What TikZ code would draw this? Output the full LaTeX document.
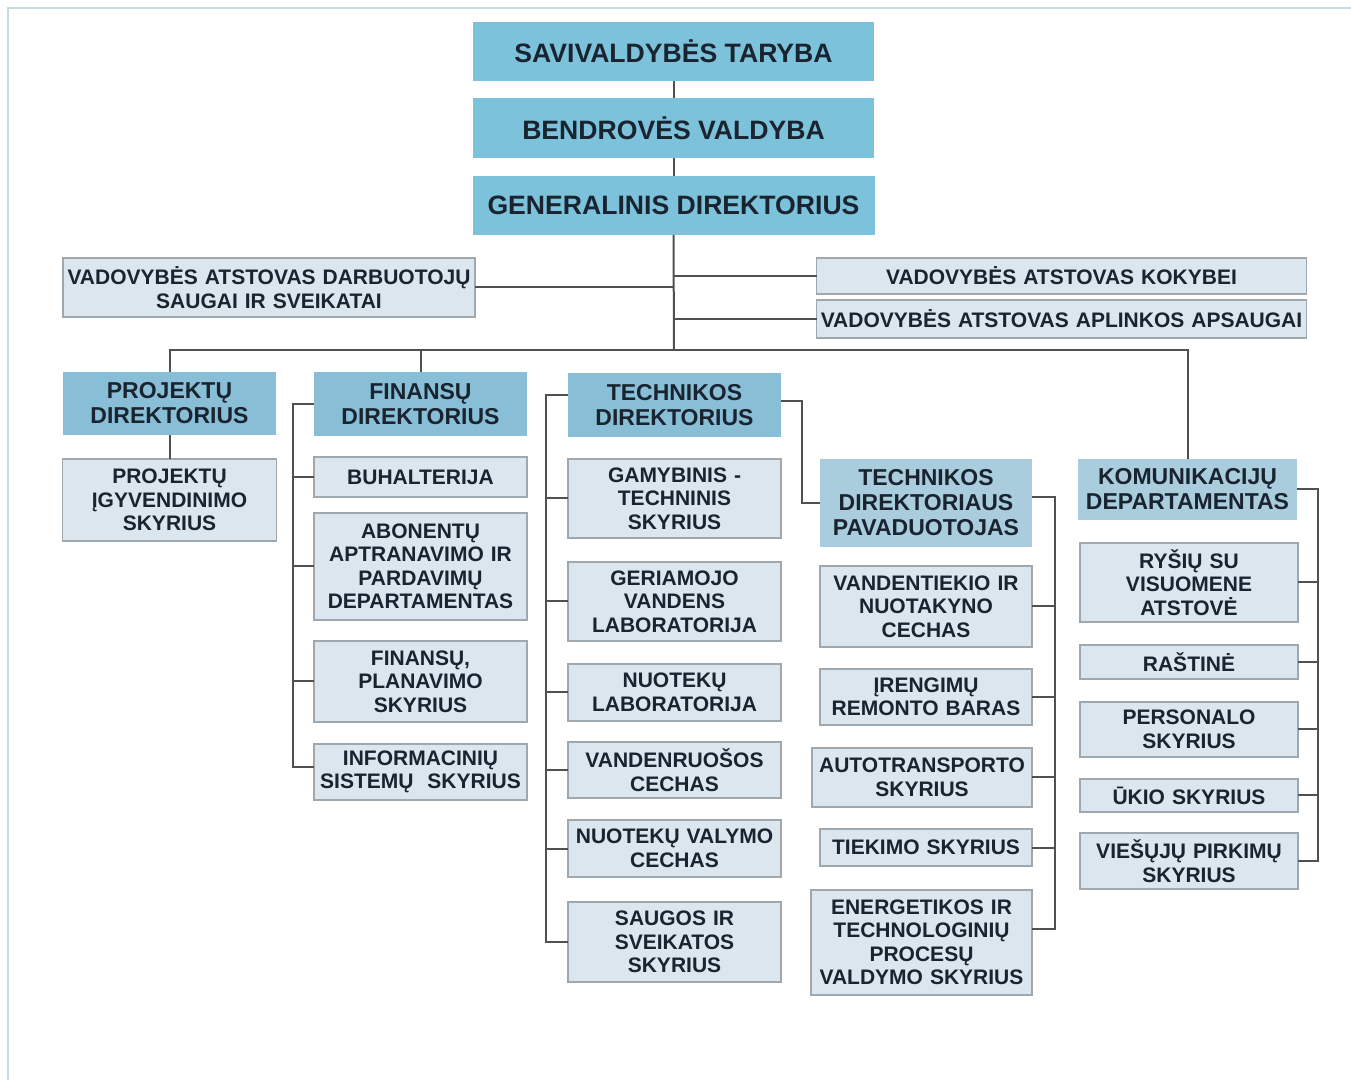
\documentclass[tikz,border=0pt]{standalone}
\usepackage{fontspec}
\setmainfont{Liberation Sans}
\usepackage{xcolor}
\usetikzlibrary{positioning}

\begin{document}
\begin{tikzpicture}[
  x=0.5pt, y=-0.5pt,
  pTop/.style={rectangle, minimum width=200.5pt, minimum height=29.5pt,
    align=center, inner sep=1pt, outer sep=0pt,
    fill={rgb,255:red,124;green,194;blue,218},
    text={rgb,255:red,26;green,36;blue,48},
    font=\bfseries\fontsize{13.3}{15}\selectfont},
  pDir/.style={rectangle, minimum width=106.5pt, text width=104.5pt,
    align=center, inner sep=1pt, outer sep=0pt,
    fill={rgb,255:red,136;green,190;blue,214},
    text={rgb,255:red,26;green,36;blue,48},
    font=\bfseries\fontsize{11.5}{12.5}\selectfont},
  pDep/.style={pDir,
    fill={rgb,255:red,170;green,205;blue,222}},
  pSub/.style={rectangle, minimum width=106.5pt, text width=104.5pt,
    align=center, inner sep=1pt, outer sep=0pt,
    fill={rgb,255:red,220;green,230;blue,238},
    draw={rgb,255:red,160;green,168;blue,175},
    line width=0.6pt,
    text={rgb,255:red,26;green,36;blue,48},
    font=\bfseries\fontsize{10.5}{11.75}\selectfont},
  wPav/.style={minimum width=106pt, text width=104pt},
  wKom/.style={minimum width=109pt, text width=107pt},
  pline/.style={line width=1pt,
    color={rgb,255:red,80;green,80;blue,80}},
  frameline/.style={line width=0.6pt,
    color={rgb,255:red,196;green,218;blue,228}},
]

  \fill[white] (0,0) rectangle (1351,1080);
  \useasboundingbox (0,0) rectangle (1351,1080);
  \draw[frameline] (8,1080) -- (8,8) -- (1351,8);

  %% -- Top of the hierarchy ------------------------------------
  \node[pTop] (taryba) at (673.5,51.5) {SAVIVALDYBĖS TARYBA};
  \node[pTop, minimum height=30pt, below=8.5pt of taryba] (valdyba)
    {BENDROVĖS VALDYBA};
  \node[pTop, minimum width=201pt, below=9pt of valdyba] (gendir)
    {GENERALINIS DIREKTORIUS};

  %% -- Staff representatives -----------------------------------
  \node[pSub, minimum width=206pt, text width=204pt,
    minimum height=29.5pt] (saugai) at (269,287.5)
    {VADOVYBĖS ATSTOVAS DARBUOTOJŲ\\SAUGAI IR SVEIKATAI};
  \node[pSub, minimum width=245pt, text width=243pt,
    minimum height=18pt] (kokybe) at (1061.5,276)
    {VADOVYBĖS ATSTOVAS KOKYBEI};
  \node[pSub, minimum width=245pt, text width=243pt,
    minimum height=19pt, below=3pt of kokybe] (aplinka)
    {VADOVYBĖS ATSTOVAS APLINKOS APSAUGAI};

  %% -- Directors -----------------------------------------------
  \node[pDir, minimum height=31.5pt] (projdir) at (169.5,403.5)
    {PROJEKTŲ\\DIREKTORIUS};
  \node[pDir, minimum height=32pt] (findir) at (420.5,404)
    {FINANSŲ\\DIREKTORIUS};
  \node[pDir, minimum height=32pt] (techdir) at (674.5,405)
    {TECHNIKOS\\DIREKTORIUS};
  \node[pDep, wPav, minimum height=44pt] (pavad) at (926,503)
    {TECHNIKOS\\DIREKTORIAUS\\PAVADUOTOJAS};
  \node[pDep, minimum width=109.5pt, text width=107.5pt,
    minimum height=30.5pt] (komdir) at (1187.5,489.5)
    {KOMUNIKACIJŲ\\DEPARTAMENTAS};

  %% -- Projektų direktorius ------------------------------------
  \node[pSub, minimum width=107pt, text width=105pt,
    minimum height=41pt, below=12pt of projdir] (projsk)
    {PROJEKTŲ\\ĮGYVENDINIMO\\SKYRIUS};

  %% -- Finansų direktorius -------------------------------------
  \node[pSub, minimum height=20pt, below=10.5pt of findir] (buh)
    {BUHALTERIJA};
  \node[pSub, minimum height=53.5pt, below=8pt of buh] (abon)
    {ABONENTŲ\\APTRANAVIMO IR\\PARDAVIMŲ\\DEPARTAMENTAS};
  \node[pSub, minimum height=40.5pt, below=10.5pt of abon] (finplan)
    {FINANSŲ,\\PLANAVIMO\\SKYRIUS};
  \node[pSub, minimum height=28pt, below=11pt of finplan] (info)
    {INFORMACINIŲ\\SISTEMŲ~ SKYRIUS};

  %% -- Technikos direktorius -----------------------------------
  \node[pSub, minimum height=39.5pt, below=11pt of techdir] (gam)
    {GAMYBINIS -\\TECHNINIS\\SKYRIUS};
  \node[pSub, minimum height=39.5pt, below=12pt of gam] (geri)
    {GERIAMOJO\\VANDENS\\LABORATORIJA};
  \node[pSub, minimum height=28.5pt, below=11.5pt of geri] (nuolab)
    {NUOTEKŲ\\LABORATORIJA};
  \node[pSub, minimum height=28pt, below=10.5pt of nuolab] (vruos)
    {VANDENRUOŠOS\\CECHAS};
  \node[pSub, minimum height=28.5pt, below=11pt of vruos] (nval)
    {NUOTEKŲ VALYMO\\CECHAS};
  \node[pSub, minimum height=40pt, below=12.5pt of nval] (saug)
    {SAUGOS IR\\SVEIKATOS\\SKYRIUS};

  %% -- Technikos direktoriaus pavaduotojas ---------------------
  \node[pSub, wPav, minimum height=40.5pt, below=9.5pt of pavad] (vtiek)
    {VANDENTIEKIO IR\\NUOTAKYNO\\CECHAS};
  \node[pSub, wPav, minimum height=28pt, below=11pt of vtiek] (irem)
    {ĮRENGIMŲ\\REMONTO BARAS};
  \node[pSub, minimum width=110pt, text width=108pt,
    minimum height=29.5pt, below=11.5pt of irem, xshift=-2pt] (auto)
    {AUTOTRANSPORTO\\SKYRIUS};
  \node[pSub, wPav, minimum height=18.5pt,
    below=11pt of auto, xshift=2pt] (tiek)
    {TIEKIMO SKYRIUS};
  \node[pSub, minimum width=110.5pt, text width=108.5pt,
    minimum height=52.5pt, below=12pt of tiek, xshift=-2.25pt] (ener)
    {ENERGETIKOS IR\\TECHNOLOGINIŲ\\PROCESŲ\\VALDYMO SKYRIUS};

  %% -- Komunikacijų departamentas ------------------------------
  \node[pSub, wKom, minimum height=39.5pt,
    below=11.5pt of komdir, xshift=0.75pt] (rysiu)
    {RYŠIŲ SU\\VISUOMENE\\ATSTOVĖ};
  \node[pSub, wKom, minimum height=17pt, below=11.5pt of rysiu] (rast)
    {RAŠTINĖ};
  \node[pSub, wKom, minimum height=27.5pt, below=11.5pt of rast] (pers)
    {PERSONALO\\SKYRIUS};
  \node[pSub, wKom, minimum height=16.5pt, below=11pt of pers] (ukio)
    {ŪKIO SKYRIUS};
  \node[pSub, wKom, minimum height=28pt, below=10.5pt of ukio] (viesu)
    {VIEŠŲJŲ PIRKIMŲ\\SKYRIUS};

  %% -- Connectors ----------------------------------------------
  \coordinate (bus) at (674,350);
  \draw[pline] (taryba.south) -- (valdyba.north);
  \draw[pline] (valdyba.south) -- (gendir.north);
  \draw[pline] (gendir.south) -- (bus);

  \draw[pline] (saugai.east) -- (gendir.south |- saugai.east);
  \foreach \n in {kokybe, aplinka}
    \draw[pline] (\n.west) -- (gendir.south |- \n.west);

  \draw[pline] (projdir.north) |- (bus) -| (komdir.north);
  \draw[pline] (findir.north) -- (findir.north |- bus);
  \draw[pline] (projdir.south) -- (projsk.north);

  \draw[pline] (findir.west) -- ++(-21,0) coordinate (fl)
    |- ([yshift=2.5pt]info.west);
  \foreach \n in {buh, abon, finplan}
    \draw[pline] (\n.west) -- (fl |- \n.west);

  \draw[pline] ([yshift=5pt]techdir.west) -- ++(-22,0) coordinate (tl)
    |- (saug.west);
  \foreach \n in {gam, geri, nuolab, vruos, nval}
    \draw[pline] (\n.west) -- (tl |- \n.west);
  \draw[pline] ([yshift=2pt]techdir.east) -- ++(21,0) |- (pavad.west);

  \draw[pline] ([yshift=3pt]pavad.east) -- ++(23,0) coordinate (pr)
    |- ([yshift=7pt]ener.east);
  \foreach \n in {vtiek, irem, auto, tiek}
    \draw[pline] (\n.east) -- (pr |- \n.east);

  \draw[pline] (komdir.east) -- ++(21,0) coordinate (kr) |- (viesu.east);
  \foreach \n in {rysiu, rast, pers, ukio}
    \draw[pline] (\n.east) -- (kr |- \n.east);

\end{tikzpicture}
\end{document}
